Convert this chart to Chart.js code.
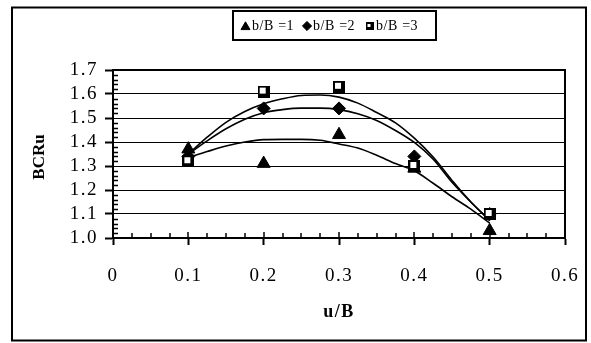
<!DOCTYPE html>
<html>
<head>
<meta charset="utf-8">
<script src="https://cdn.jsdelivr.net/npm/chart.js@4/dist/chart.umd.min.js"></script>
<style>
  html, body { margin: 0; padding: 0; background: #fff; }
  #wrap { width: 591px; height: 343px; position: relative; }
</style>
</head>
<body>
<div id="wrap"><canvas id="c"></canvas></div>
<script>
// Measured bearing capacity ratios
const uB = [0.1, 0.2, 0.3, 0.4, 0.5];
const bcrB1 = [1.37, 1.31, 1.43, 1.29, 1.03];
const bcrB2 = [1.34, 1.54, 1.54, 1.34, 1.10];
const bcrB3 = [1.32, 1.61, 1.63, 1.30, 1.10];

// Fitted trend curves, sampled along u/B
const trendU = [0.1, 0.125, 0.15, 0.175, 0.2, 0.225, 0.25, 0.275, 0.3, 0.325, 0.35, 0.375, 0.4, 0.425, 0.45, 0.475, 0.5];
const trendB1 = [1.335, 1.36, 1.383, 1.40, 1.41, 1.411, 1.411, 1.407, 1.392, 1.375, 1.345, 1.31, 1.28, 1.228, 1.172, 1.12, 1.062];
const trendB2 = [1.35, 1.405, 1.455, 1.495, 1.522, 1.535, 1.541, 1.541, 1.535, 1.518, 1.49, 1.448, 1.398, 1.328, 1.232, 1.15, 1.072];
const trendB3 = [1.35, 1.42, 1.482, 1.527, 1.559, 1.58, 1.594, 1.596, 1.587, 1.562, 1.523, 1.48, 1.416, 1.337, 1.24, 1.15, 1.075];

// Axis ticks
const xTickVals = [0, 0.1, 0.2, 0.3, 0.4, 0.5, 0.6];
const xTickLabels = ['0', '0.1', '0.2', '0.3', '0.4', '0.5', '0.6'];
const yTickVals = [1.0, 1.1, 1.2, 1.3, 1.4, 1.5, 1.6, 1.7];
const yTickLabels = ['1.0', '1.1', '1.2', '1.3', '1.4', '1.5', '1.6', '1.7'];

const seriesLabels = ['b/B =1', 'b/B =2', 'b/B =3'];
const xTitle = 'u/B';
const yTitle = 'BCRu';

const FONT = "'Liberation Serif', 'Times New Roman', serif";
const hasSpacing = 'letterSpacing' in CanvasRenderingContext2D.prototype;

// Square marker: black frame with a white window
function squareMarker(size, inset, win) {
  const cv = document.createElement('canvas');
  cv.width = size; cv.height = size;
  const g = cv.getContext('2d');
  g.fillStyle = '#000';
  g.fillRect(0, 0, size, size);
  g.fillStyle = '#fff';
  g.fillRect(inset, inset, win, win);
  return cv;
}
const sqBig = squareMarker(12, 2, 6);
const sqSmall = squareMarker(8, 2, 3);

const pts = (xs, ys) => xs.map((x, i) => ({ x: x, y: ys[i] }));

const lineDs = (ys) => ({
  data: pts(trendU, ys),
  showLine: true,
  borderColor: '#000',
  borderWidth: 1.6,
  pointRadius: 0,
  cubicInterpolationMode: 'monotone',
  fill: false,
  order: 3
});

const markerStyles = [
  { pointStyle: 'triangle', pointRadius: 7.5 },
  { pointStyle: 'rectRot', pointRadius: 6.5 },
  { pointStyle: sqBig, pointRadius: 6 }
];

const markerDs = (ys, k) => ({
  label: seriesLabels[k],
  data: pts(uB, ys),
  showLine: false,
  backgroundColor: '#000',
  borderColor: '#000',
  borderWidth: 1,
  pointStyle: markerStyles[k].pointStyle,
  pointRadius: markerStyles[k].pointRadius,
  pointHoverRadius: markerStyles[k].pointRadius,
  order: 2 - k
});

const fixedTicks = (vals) => (s) => { s.ticks = vals.map(v => ({ value: v })); };
const labelFor = (vals, labels) => (v) => {
  const i = vals.findIndex(t => Math.abs(t - v) < 1e-9);
  return i >= 0 ? labels[i] : '';
};

// Outer frame, plot border, minor ticks, y title and the boxed legend
const decorations = {
  id: 'decorations',
  beforeDraw(chart) {
    const ctx = chart.ctx;
    ctx.fillStyle = '#fff';
    ctx.fillRect(0, 0, chart.width, chart.height);
    // slightly wider lettering for the axis text
    if (hasSpacing) ctx.letterSpacing = '1.5px';
  },
  afterDraw(chart) {
    const ctx = chart.ctx;
    if (hasSpacing) ctx.letterSpacing = '0px';
    const a = chart.chartArea;
    const xs = chart.scales.x, ys = chart.scales.y;
    ctx.save();
    ctx.strokeStyle = '#000';
    ctx.lineCap = 'butt';

    // plot area top and right edges
    ctx.lineWidth = 2;
    ctx.beginPath();
    ctx.moveTo(a.left, a.top);
    ctx.lineTo(a.right, a.top);
    ctx.lineTo(a.right, a.bottom);
    ctx.stroke();

    // minor ticks on y (inside)
    ctx.lineWidth = 1.5;
    ctx.beginPath();
    for (let i = 0; i <= 35; i++) {
      if (i % 5 === 0) continue;
      const py = Math.round(ys.getPixelForValue(1 + i * 0.02)) + 0.5;
      ctx.moveTo(a.left, py);
      ctx.lineTo(a.left + 5, py);
    }
    // ticks on x (inside): majors and minors
    for (let i = 0; i <= 24; i++) {
      const px = Math.round(xs.getPixelForValue(i * 0.025));
      ctx.moveTo(px, a.bottom);
      ctx.lineTo(px, a.bottom - (i % 4 === 0 ? 6 : 5));
    }
    ctx.stroke();

    // outer frame
    ctx.lineWidth = 2;
    ctx.strokeRect(12, 7.5, 574, 333);

    // y axis title
    ctx.save();
    ctx.translate(40, (a.top + a.bottom) / 2 + 3);
    ctx.rotate(-Math.PI / 2);
    ctx.font = 'bold 17px ' + FONT;
    ctx.fillStyle = '#000';
    ctx.textAlign = 'center';
    ctx.textBaseline = 'middle';
    ctx.fillText(yTitle, 0, 0);
    ctx.restore();

    // legend
    const lx = 233, ly = 11, lw = 203, lh = 29;
    ctx.fillStyle = '#fff';
    ctx.fillRect(lx, ly, lw, lh);
    ctx.strokeRect(lx, ly, lw, lh);
    const cy = ly + lh / 2 + 0.5;
    const items = [
      { mx: 245.5, tx: 252, style: 'triangle', r: 5.2 },
      { mx: 307, tx: 313, style: 'rectRot', r: 4.6 },
      { mx: 369.5, tx: 376, style: sqSmall, r: 4 }
    ];
    ctx.font = '14px ' + FONT;
    if (hasSpacing) ctx.letterSpacing = '0.6px';
    ctx.textBaseline = 'middle';
    ctx.textAlign = 'left';
    items.forEach((it, k) => {
      ctx.fillStyle = '#000';
      ctx.strokeStyle = '#000';
      ctx.lineWidth = 1;
      if (Chart.helpers && Chart.helpers.drawPoint) {
        Chart.helpers.drawPoint(ctx, { pointStyle: it.style, radius: it.r, rotation: 0, borderWidth: 1 }, it.mx, k === 0 ? cy + 1 : cy);
      }
      ctx.fillStyle = '#000';
      ctx.fillText(seriesLabels[k], it.tx, cy);
    });
    ctx.restore();
    if (hasSpacing) ctx.letterSpacing = '0px';
  }
};

new Chart(document.getElementById('c'), {
  type: 'scatter',
  data: {
    datasets: [
      lineDs(trendB1), lineDs(trendB2), lineDs(trendB3),
      markerDs(bcrB1, 0), markerDs(bcrB2, 1), markerDs(bcrB3, 2)
    ]
  },
  options: {
    responsive: true,
    maintainAspectRatio: false,
    animation: false,
    events: [],
    layout: { padding: { left: 12, right: 26, top: 70, bottom: 0 } },
    plugins: {
      legend: { display: false },
      tooltip: { enabled: false }
    },
    scales: {
      x: {
        type: 'linear',
        min: 0, max: 0.6,
        afterFit(s) { s.height = 105; s.paddingLeft = 0; s.paddingRight = 0; },
        afterBuildTicks: fixedTicks(xTickVals),
        ticks: {
          autoSkip: false,
          color: '#000',
          padding: 20,
          maxRotation: 0,
          font: { family: FONT, size: 19 },
          callback: labelFor(xTickVals, xTickLabels)
        },
        grid: {
          drawOnChartArea: false,
          drawTicks: true,
          tickLength: 7,
          tickWidth: 2,
          tickColor: '#000'
        },
        border: { display: true, color: '#000', width: 2 },
        title: {
          display: true,
          text: xTitle,
          color: '#000',
          font: { family: FONT, size: 18, weight: 'bold' },
          padding: { top: 0, bottom: 20 }
        }
      },
      y: {
        type: 'linear',
        min: 1.0, max: 1.7,
        afterFit(s) { s.width = 101; s.paddingTop = 0; s.paddingBottom = 0; },
        afterBuildTicks: fixedTicks(yTickVals),
        ticks: {
          autoSkip: false,
          color: '#000',
          padding: 7,
          font: { family: FONT, size: 19 },
          callback: labelFor(yTickVals, yTickLabels)
        },
        grid: {
          color: '#000',
          lineWidth: 1,
          drawTicks: true,
          tickLength: 8,
          tickWidth: 2,
          tickColor: '#000'
        },
        border: { display: true, color: '#000', width: 2 },
        title: { display: false }
      }
    }
  },
  plugins: [decorations]
});
</script>
</body>
</html>
